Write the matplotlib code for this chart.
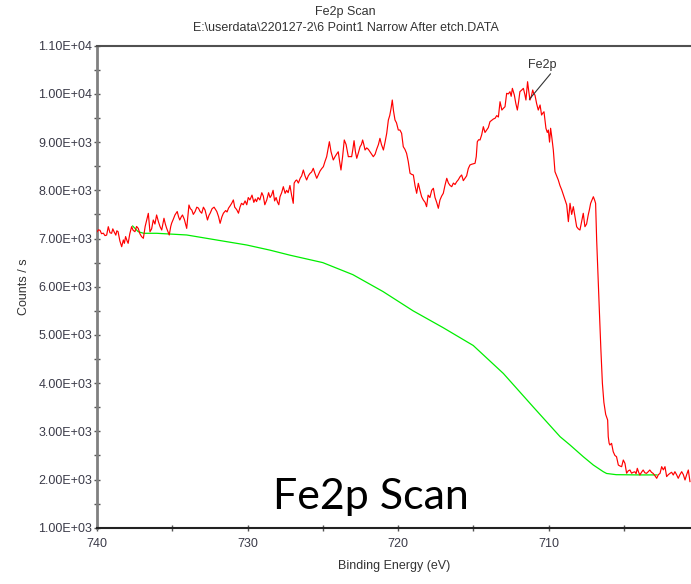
import matplotlib
matplotlib.use("Agg")
import matplotlib.pyplot as plt
from matplotlib.ticker import MultipleLocator, FuncFormatter

# ---------------- data ----------------
be_red = [740.00, 739.90, 739.80, 739.70, 739.58, 739.47, 739.36, 739.25, 739.14, 739.03,
          738.95, 738.88, 738.75, 738.68, 738.60, 738.48, 738.36, 738.25, 738.18, 738.10,
          738.00, 737.93, 737.82, 737.70, 737.60, 737.48, 737.37, 737.26, 737.15, 737.04,
          736.92, 736.80, 736.70, 736.59, 736.48, 736.37, 736.26, 736.15, 736.04, 735.92,
          735.81, 735.70, 735.55, 735.46, 735.37, 735.20, 735.10, 735.04, 734.93, 734.82,
          734.67, 734.58, 734.50, 734.40, 734.32, 734.20, 734.04, 733.89, 733.80, 733.70,
          733.60, 733.48, 733.37, 733.26, 733.15, 733.04, 732.93, 732.82, 732.66, 732.56,
          732.48, 732.35, 732.22, 732.12, 732.04, 731.92, 731.82, 731.70, 731.60, 731.45,
          731.36, 731.26, 731.15, 731.05, 730.94, 730.85, 730.72, 730.60, 730.50, 730.40,
          730.28, 730.16, 730.05, 729.95, 729.84, 729.70, 729.58, 729.48, 729.40, 729.30,
          729.18, 729.05, 728.95, 728.85, 728.72, 728.60, 728.50, 728.40, 728.30, 728.20,
          728.10, 728.00, 727.92, 727.84, 727.73, 727.62, 727.50, 727.40, 727.30, 727.18,
          727.07, 726.96, 726.90, 726.80, 726.73, 726.62, 726.50, 726.40, 726.29, 726.18,
          726.07, 725.96, 725.85, 725.74, 725.63, 725.52, 725.40, 725.30, 725.18, 725.07,
          724.96, 724.85, 724.74, 724.65, 724.56, 724.45, 724.30, 724.18, 724.08, 723.97,
          723.88, 723.79, 723.68, 723.57, 723.45, 723.30, 723.18, 723.08, 723.00, 722.92,
          722.83, 722.74, 722.63, 722.52, 722.43, 722.35, 722.27, 722.19, 722.08, 721.97,
          721.86, 721.75, 721.64, 721.52, 721.42, 721.30, 721.20, 721.10, 720.97, 720.86,
          720.75, 720.64, 720.55, 720.46, 720.38, 720.30, 720.20, 720.10, 719.98, 719.87,
          719.76, 719.65, 719.54, 719.43, 719.32, 719.20, 719.09, 718.98, 718.87, 718.76,
          718.65, 718.54, 718.43, 718.32, 718.20, 718.10, 718.00, 717.88, 717.76, 717.65,
          717.54, 717.43, 717.32, 717.21, 717.10, 716.99, 716.88, 716.76, 716.65, 716.54,
          716.43, 716.32, 716.21, 716.10, 715.99, 715.88, 715.77, 715.66, 715.55, 715.44,
          715.33, 715.22, 715.11, 715.00, 714.88, 714.80, 714.73, 714.64, 714.55, 714.44,
          714.33, 714.22, 714.11, 714.00, 713.89, 713.78, 713.66, 713.55, 713.44, 713.33,
          713.22, 713.10, 713.00, 712.89, 712.78, 712.67, 712.56, 712.48, 712.40, 712.27,
          712.17, 712.07, 711.98, 711.90, 711.78, 711.67, 711.58, 711.50, 711.39, 711.31,
          711.23, 711.14, 711.05, 710.97, 710.90, 710.79, 710.68, 710.56, 710.46, 710.38,
          710.30, 710.17, 710.08, 710.01, 709.93, 709.86, 709.78, 709.68, 709.57, 709.46,
          709.35, 709.24, 709.12, 709.01, 708.90, 708.79, 708.68, 708.57, 708.46, 708.35,
          708.24, 708.13, 708.02, 707.91, 707.80, 707.69, 707.58, 707.47, 707.36, 707.28,
          707.20, 707.11, 707.02, 706.94, 706.87, 706.80, 706.72, 706.62, 706.52, 706.42,
          706.32, 706.20, 706.07, 706.03, 705.97, 705.92, 705.81, 705.70, 705.59, 705.48,
          705.36, 705.25, 705.14, 705.03, 704.92, 704.81, 704.70, 704.59, 704.48, 704.37,
          704.26, 704.18, 704.10, 704.01, 703.93, 703.82, 703.71, 703.60, 703.49, 703.38,
          703.27, 703.16, 703.05, 702.93, 702.81, 702.70, 702.59, 702.48, 702.37, 702.26,
          702.15, 702.04, 701.93, 701.82, 701.71, 701.60, 701.49, 701.38, 701.27, 701.15,
          701.04, 700.93, 700.82, 700.71, 700.60]
cps_red = [7140, 7180, 7170, 7100, 7110, 7060, 7070, 7245, 7120, 7108,
           7200, 7150, 7070, 7160, 7141, 6950, 6830, 6970, 6900, 7040,
           6950, 6900, 7100, 7245, 7170, 7141, 7250, 7210, 7100, 7040,
           7004, 7250, 7384, 7522, 7140, 7200, 7384, 7300, 7488, 7350,
           7245, 7176, 7420, 7300, 7210, 7073, 7250, 7318, 7400, 7488,
           7560, 7450, 7384, 7450, 7488, 7400, 7210, 7695, 7620, 7590,
           7500, 7560, 7650, 7630, 7560, 7525, 7650, 7590, 7384, 7480,
           7525, 7620, 7650, 7600, 7560, 7450, 7315, 7450, 7525, 7580,
           7550, 7630, 7680, 7730, 7800, 7650, 7600, 7525, 7650, 7730,
           7700, 7780, 7700, 7850, 7800, 7900, 7750, 7820, 7765, 7850,
           7800, 7950, 7880, 7700, 7800, 7950, 7850, 7900, 8000, 7780,
           7850, 7750, 7700, 7867, 7950, 8075, 7937, 8000, 7950, 8100,
           7900, 7730, 8150, 8200, 8214, 8150, 8250, 8300, 8421, 8300,
           8214, 8300, 8350, 8380, 8456, 8350, 8249, 8320, 8400, 8450,
           8490, 8600, 8697, 8850, 9008, 8800, 8629, 8700, 8750, 8800,
           8600, 8421, 8700, 9044, 8950, 8697, 8700, 8697, 8850, 9029,
           8800, 8664, 8780, 8905, 8950, 9044, 8950, 8836, 8880, 8850,
           8800, 8750, 8697, 8750, 8850, 8950, 9078, 8950, 8836, 9000,
           9182, 9459, 9550, 9700, 9873, 9650, 9459, 9400, 9251, 9250,
           9182, 8905, 8850, 8767, 8600, 8353, 8330, 8318, 8100, 7938,
           8145, 8000, 7867, 7800, 7750, 7660, 7900, 7850, 8000, 8042,
           7850, 7750, 7627, 7800, 7880, 7938, 8100, 8249, 8150, 8100,
           8075, 8150, 8120, 8178, 8220, 8280, 8318, 8200, 8249, 8300,
           8450, 8525, 8540, 8550, 8560, 8700, 9008, 9050, 9044, 9150,
           9320, 9200, 9250, 9300, 9423, 9450, 9480, 9494, 9550, 9520,
           9838, 9665, 9700, 9734, 10012, 10000, 10046, 9950, 10115, 9976,
           9800, 9665, 9850, 10046, 10080, 10115, 10000, 9873, 10253, 10050,
           9873, 9950, 10081, 10000, 9976, 9800, 9665, 9770, 9562, 9600,
           9630, 9287, 9200, 9250, 9000, 9287, 9100, 8836, 8386, 8300,
           8214, 8100, 8007, 7900, 7800, 7696, 7350, 7731, 7500, 7660,
           7450, 7245, 7200, 7176, 7350, 7523, 7245, 7300, 7490, 7600,
           7730, 7800, 7867, 7800, 7730, 6969, 6300, 5500, 4700, 4000,
           3600, 3350, 3234, 2888, 2750, 2716, 2750, 2577, 2500, 2473,
           2300, 2280, 2266, 2404, 2335, 2130, 2180, 2197, 2130, 2150,
           2160, 2120, 2232, 2150, 2093, 2150, 2197, 2140, 2127, 2160,
           2197, 2150, 2127, 2080, 2025, 2100, 2127, 2266, 2200, 2266,
           2060, 2100, 2127, 2150, 2093, 2162, 2100, 2025, 2100, 2162,
           2100, 1990, 2100, 2197, 1957]

be_bg = [737.63, 737.26, 736.90, 736.03, 734.04, 732.05, 730.05, 728.50, 727.18, 725.00,
         723.00, 721.00, 719.00, 717.00, 715.00, 713.00, 711.00, 709.23, 708.57, 707.69,
         707.02, 706.36, 706.14, 705.50, 704.00, 702.80]
cps_bg = [7259, 7141, 7108, 7108, 7073, 6969, 6865, 6758, 6654, 6500,
          6250, 5900, 5500, 5150, 4780, 4200, 3500, 2888, 2716, 2473,
          2300, 2162, 2125, 2100, 2095, 2095]

peak_label = "Fe2p"
peak_be = 711.27
peak_cps = 9888

title_main = "Fe2p Scan"
title_sub = "E:\\userdata\\220127-2\\6 Point1 Narrow After etch.DATA"
x_label = "Binding Energy (eV)"
y_label = "Counts / s"
overlay_text = "Fe2p Scan"

# ---------------- figure ----------------
W, H = 691, 584
fig = plt.figure(figsize=(W / 100, H / 100), dpi=100)
plt.rcParams['font.family'] = ['Liberation Sans', 'DejaVu Sans']

ax_l, ax_r, ax_t, ax_b = 97, 691, 45.7, 527.7
ax = fig.add_axes([ax_l / W, 1 - ax_b / H, (ax_r - ax_l) / W, (ax_b - ax_t) / H])

ax.plot(be_red, cps_red, color='#ff0000', lw=0.85, zorder=3)
ax.plot(be_bg, cps_bg, color='#00ee00', lw=0.9, zorder=2)

ax.set_xlim(740, 740 - (ax_r - ax_l) / 15.05)
ax.set_ylim(1000, 11000)

ax.xaxis.set_major_locator(MultipleLocator(10))
ax.xaxis.set_minor_locator(MultipleLocator(5))
ax.yaxis.set_major_locator(MultipleLocator(1000))
ax.yaxis.set_minor_locator(MultipleLocator(500))
ax.yaxis.set_major_formatter(FuncFormatter(lambda v, p: f"{v:.2E}"))
ax.xaxis.set_major_formatter(FuncFormatter(lambda v, p: f"{v:.0f}"))

ax.tick_params(axis='both', which='both', direction='inout', length=5, width=1,
               color='#555555', labelsize=9, labelcolor='#3a3a48')
ax.tick_params(axis='y', pad=1)
ax.tick_params(axis='x', pad=5)

ax.spines['right'].set_visible(False)
ax.spines['left'].set_color('#808080')
ax.spines['left'].set_linewidth(2)
ax.spines['bottom'].set_color('#222222')
ax.spines['bottom'].set_linewidth(1.5)
ax.spines['top'].set_color('#505050')
ax.spines['top'].set_linewidth(1.5)

ax.set_xlabel(x_label, fontsize=9, color='#333333', labelpad=7)
ax.set_ylabel(y_label, fontsize=9, color='#333333', labelpad=6)

fig.text(0.5, 1 - 12 / H, title_main, ha='center', va='center', fontsize=9, color='#333333')
fig.text(0.5, 1 - 28 / H, title_sub, ha='center', va='center', fontsize=9, color='#333333')

ax.annotate(peak_label, xy=(peak_be, peak_cps), xycoords='data',
            xytext=(542 / W, 1 - 65 / H), textcoords='figure fraction',
            ha='center', va='center', fontsize=9, color='#333333',
            arrowprops=dict(arrowstyle='-', color='#333333', lw=0.8,
                            shrinkA=0, shrinkB=0, relpos=(0.95, 0.2)))

fig.text(371 / W, 1 - 497 / H, overlay_text, ha='center', va='center',
         fontsize=31, family=['Lato', 'DejaVu Sans'], color='black')

fig.savefig("out.png", dpi=100)
